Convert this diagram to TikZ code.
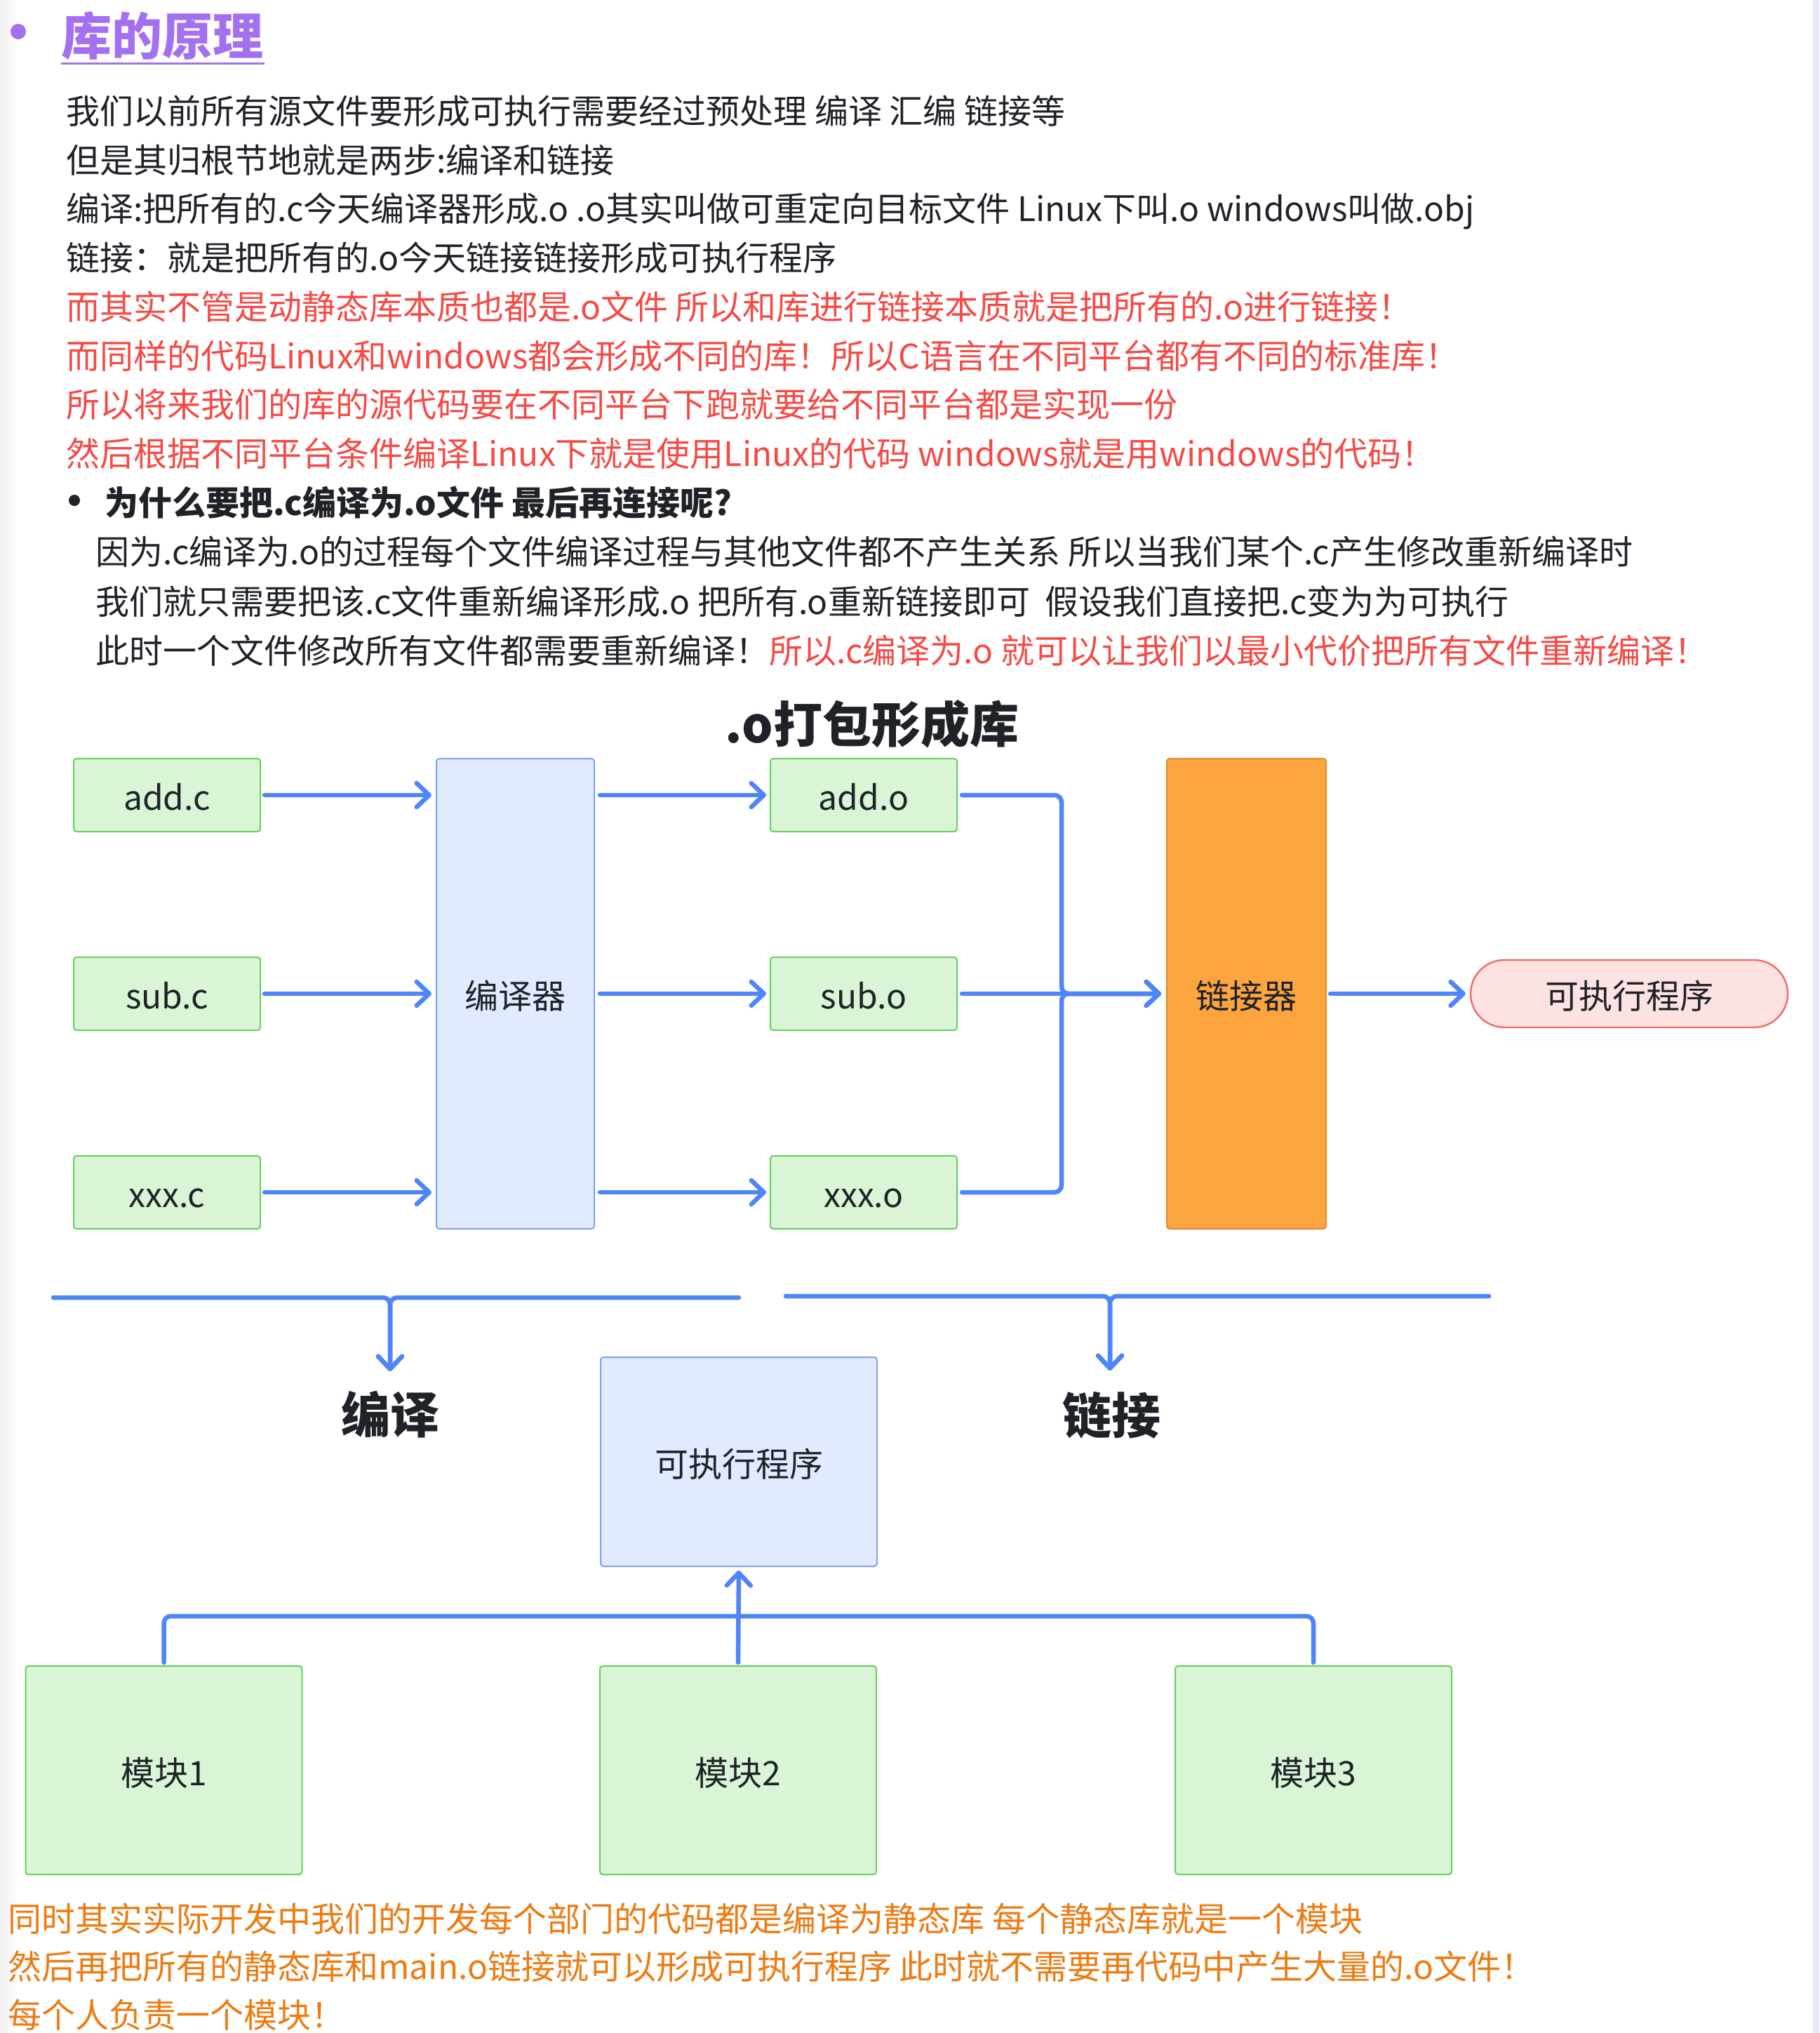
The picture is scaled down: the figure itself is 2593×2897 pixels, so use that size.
\documentclass[tikz,border=0pt]{standalone}
\usepackage{fontspec}
\setmainfont{Noto Sans CJK SC}
\usetikzlibrary{arrows.meta}
\definecolor{txt}{HTML}{1F2329}
\definecolor{redt}{HTML}{F54A45}
\definecolor{orgt}{HTML}{ED7B12}
\definecolor{purt}{HTML}{A370F0}
\definecolor{blu}{HTML}{4F85FA}
\definecolor{gfill}{HTML}{D9F5D6}
\definecolor{gline}{HTML}{65D15B}
\definecolor{bfill}{HTML}{E1EAFF}
\definecolor{bline}{HTML}{7DA3F7}
\definecolor{ofill}{HTML}{FCA43E}
\definecolor{oline}{HTML}{E08C30}
\definecolor{pfill}{HTML}{FDE2E2}
\definecolor{pline}{HTML}{F26A66}
\definecolor{edge}{HTML}{E4E9F6}
\begin{document}
\begin{tikzpicture}[x=0.5pt,y=-0.5pt,
  body/.style={anchor=base west,inner sep=0pt,font=\fontsize{24pt}{28pt}\selectfont,text=txt},
  redline/.style={body,text=redt},
  orgline/.style={body,text=orgt},
  boxfont/.style={font=\fontsize{24pt}{28pt}\selectfont,text=txt,inner sep=0pt,text height=21.5pt,text depth=0pt},
  gbox/.style={boxfont,draw=gline,fill=gfill,line width=1pt,rounded corners=2pt,minimum width=133pt,minimum height=52pt},
  modbox/.style={gbox,minimum width=197pt,minimum height=148.5pt},
  tallbox/.style={boxfont,draw=bline,fill=bfill,line width=1pt,rounded corners=2pt,minimum width=112.5pt,minimum height=335pt},
  linkbox/.style={boxfont,draw=oline,fill=ofill,line width=1pt,rounded corners=2pt,minimum width=113.5pt,minimum height=335pt},
  execbox/.style={boxfont,draw=bline,fill=bfill,line width=1pt,rounded corners=2pt,minimum width=197pt,minimum height=149pt},
  pill/.style={boxfont,draw=pline,fill=pfill,line width=1.2pt,rounded corners=24pt,minimum width=226pt,minimum height=48pt},
  bigbold/.style={font=\fontsize{35pt}{40pt}\selectfont\bfseries,text=txt,inner sep=0pt},
  conn/.style={draw=blu,line width=3.25pt,line cap=round,line join=round,rounded corners=5pt},
  arr/.style={conn,-{Straight Barb[length=9pt,width=17pt,round]}},
]
\useasboundingbox (0,0) rectangle (2593,2897);
\fill[white] (0,0) rectangle (2593,2897);
\shade[left color=black!6,right color=white] (0,0) rectangle (24,2897);
\fill[edge] (2584,0) rectangle (2593,2897);

% heading
\fill[purt] (26,45) circle (5.5pt);
\node[anchor=base west,inner sep=0pt,font=\fontsize{36pt}{40pt}\selectfont\bfseries,text=purt] (title) at (87,78) {库的原理};
\draw[purt,line width=1.5pt] (87,90) -- (377,90);

% body text
\node[body] (l1) at (94,176) {我们以前所有源文件要形成可执行需要经过预处理 编译 汇编 链接等};
\node[body] (l2) at (94,246) {但是其归根节地就是两步:编译和链接};
\node[body] (l3) at (94,315) {编译:把所有的.c今天编译器形成.o .o其实叫做可重定向目标文件 Linux下叫.o windows叫做.obj};
\node[body] (l4) at (94,385) {链接：就是把所有的.o今天链接链接形成可执行程序};
\node[redline] (l5) at (94,455) {而其实不管是动静态库本质也都是.o文件 所以和库进行链接本质就是把所有的.o进行链接！};
\node[redline] (l6) at (94,525) {而同样的代码Linux和windows都会形成不同的库！所以C语言在不同平台都有不同的标准库！};
\node[redline] (l7) at (94,594) {所以将来我们的库的源代码要在不同平台下跑就要给不同平台都是实现一份};
\node[redline] (l8) at (94,664) {然后根据不同平台条件编译Linux下就是使用Linux的代码 windows就是用windows的代码！};
\fill[txt] (106,713) circle (4pt);
\node[body,font=\fontsize{24pt}{28pt}\selectfont\bfseries] (l9) at (149,734) {为什么要把.c编译为.o文件 最后再连接呢?};
\node[body] (l10) at (136,804) {因为.c编译为.o的过程每个文件编译过程与其他文件都不产生关系 所以当我们某个.c产生修改重新编译时};
\node[body] (l11) at (136,875) {我们就只需要把该.c文件重新编译形成.o 把所有.o重新链接即可\ \ 假设我们直接把.c变为为可执行};
\node[body] (l12) at (136,945) {此时一个文件修改所有文件都需要重新编译！{\color{redt}所以.c编译为.o 就可以让我们以最小代价把所有文件重新编译！}};

% diagram
\node[bigbold] (dtitle) at (1243,1032) {.o打包形成库};
\node[gbox] (addc) at (238,1133) {add.c};
\node[gbox] (subc) at (238,1416) {sub.c};
\node[gbox] (xxxc) at (238,1699) {xxx.c};
\node[tallbox] (comp) at (734.5,1416) {编译器};
\node[gbox] (addo) at (1231,1133) {add.o};
\node[gbox] (subo) at (1231,1416) {sub.o};
\node[gbox] (xxxo) at (1231,1699) {xxx.o};
\node[linkbox] (link) at (1776.5,1416) {链接器};
\node[pill] (exe) at (2322,1416) {可执行程序};

\draw[arr,shorten <=2.5pt,shorten >=3pt] (addc.east) -- (addc.east -| comp.west);
\draw[arr,shorten <=2.5pt,shorten >=3pt] (subc.east) -- (subc.east -| comp.west);
\draw[arr,shorten <=2.5pt,shorten >=3pt] (xxxc.east) -- (xxxc.east -| comp.west);
\draw[arr,shorten <=3.5pt,shorten >=2.5pt] (addo.west -| comp.east) -- (addo.west);
\draw[arr,shorten <=3.5pt,shorten >=2.5pt] (subo.west -| comp.east) -- (subo.west);
\draw[arr,shorten <=3.5pt,shorten >=2.5pt] (xxxo.west -| comp.east) -- (xxxo.west);
\coordinate (jx) at (1513,1416);
\draw[arr,shorten <=3pt,shorten >=3.5pt] (addo.east) -- (addo.east -| jx) -- (jx) -- (link.west);
\draw[arr,shorten <=3pt,shorten >=3.5pt] (xxxo.east) -- (xxxo.east -| jx) -- (jx) -- (link.west);
\draw[arr,shorten <=3pt,shorten >=3.5pt] (subo.east) -- (link.west);
\draw[arr,shorten <=2.5pt,shorten >=3pt] (link.east) -- (exe.west);

% brackets
\coordinate (b1l) at (76,1849);
\coordinate (b1r) at (1053,1849);
\coordinate (b1t) at (556,1954);
\coordinate (b2l) at (1120,1847);
\coordinate (b2r) at (2122,1847);
\coordinate (b2t) at (1582,1953);
\draw[arr] (b1l) -| (b1t);
\draw[arr] (b1r) -| (b1t);
\draw[arr] (b2l) -| (b2t);
\draw[arr] (b2r) -| (b2t);
\node[bigbold] (lbl1) at (556,2016) {编译};
\node[bigbold] (lbl2) at (1584,2017) {链接};

% modules
\node[execbox] (exe2) at (1053,2083) {可执行程序};
\node[modbox] (m1) at (233.5,2522.5) {模块1};
\node[modbox] (m2) at (1052,2522.5) {模块2};
\node[modbox] (m3) at (1872,2522.5) {模块3};
\coordinate (mj) at (1052,2303);
\draw[conn,shorten <=2pt] (m1.north) |- (mj);
\draw[conn,shorten <=2pt] (m3.north) |- (mj);
\draw[arr,shorten <=2pt,shorten >=2.5pt] (m2.north) -- (exe2.south);

% bottom text
\node[orgline] (o1) at (11,2752) {同时其实实际开发中我们的开发每个部门的代码都是编译为静态库 每个静态库就是一个模块};
\node[orgline] (o2) at (11,2820) {然后再把所有的静态库和main.o链接就可以形成可执行程序 此时就不需要再代码中产生大量的.o文件！};
\node[orgline] (o3) at (11,2889) {每个人负责一个模块！};
\end{tikzpicture}
\end{document}
